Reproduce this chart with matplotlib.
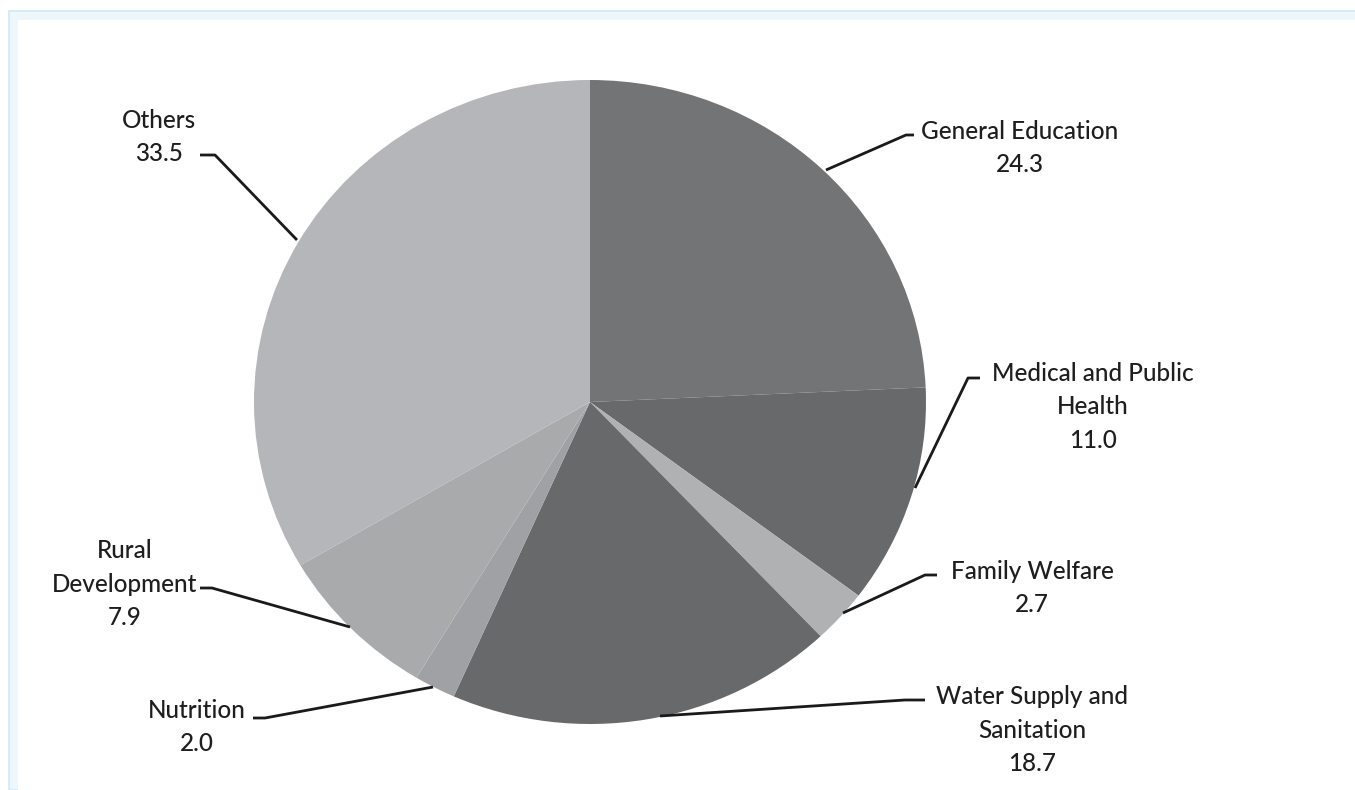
import matplotlib.pyplot as plt
from matplotlib.patches import Rectangle

# === Data ===
labels = ["General Education", "Medical and Public\nHealth", "Family Welfare",
          "Water Supply and\nSanitation", "Nutrition", "Rural\nDevelopment", "Others"]
values = [24.3, 11.0, 2.7, 18.7, 2.0, 7.9, 33.5]
colors = ["#737476", "#68696b", "#b0b1b3", "#68696b", "#a0a1a4", "#a9aaac", "#b5b6b9"]

# label centres and leader lines, in pixel coords of the 1355x790 picture
label_pos = [(1020, 148), (1093, 407), (1032, 588), (1032, 730), (197, 727), (125, 584), (159, 137)]
leaders = [
    [(826, 170), (906, 135), (914, 135)],
    [(915, 488), (968, 378), (980, 378)],
    [(843, 613), (925, 575), (937, 575)],
    [(660, 716), (905, 700), (925, 700)],
    [(433, 687), (265, 718), (253, 718)],
    [(350, 627), (212, 588), (200, 588)],
    [(297, 240), (215, 155), (200, 155)],
]

W, H = 1355, 790
CX, CY, RX, RY = 590, 402, 336, 322

fig = plt.figure(figsize=(W / 100, H / 100), dpi=100)

# === light blue frame (behind the axes) ===
fig.patches.append(Rectangle((9 / W, 0), 1, 1 - 11 / H, transform=fig.transFigure,
                             facecolor="#eef7fc", edgecolor="#cfe9f7", lw=1.2, zorder=-10))
fig.patches.append(Rectangle((18 / W, 0), 1, 1 - 20 / H, transform=fig.transFigure,
                             facecolor="white", edgecolor="none", zorder=-9))

ax = fig.add_axes([(CX - RX) / W, (H - CY - RY) / H, 2 * RX / W, 2 * RY / H])
ax.pie(values, colors=colors, startangle=90, counterclock=False, radius=1,
       wedgeprops=dict(linewidth=0))
ax.set_xlim(-1, 1)
ax.set_ylim(-1, 1)
ax.set_aspect("auto")
ax.axis("off")


def to_data(px, py):
    return (px - CX) / RX, (CY - py) / RY


for lab, val, pos, pts in zip(labels, values, label_pos, leaders):
    xs, ys = zip(*[to_data(*p) for p in pts])
    ax.plot(xs, ys, color="#1a1a1a", lw=2, clip_on=False, solid_capstyle="butt")
    tx, ty = to_data(*pos)
    ax.text(tx, ty, f"{lab}\n{val:.1f}", ha="center", va="center", fontsize=17.5,
            family="Lato", fontweight="medium", color="#1e1e1e", linespacing=1.55)

fig.savefig("out.png", dpi=100)
